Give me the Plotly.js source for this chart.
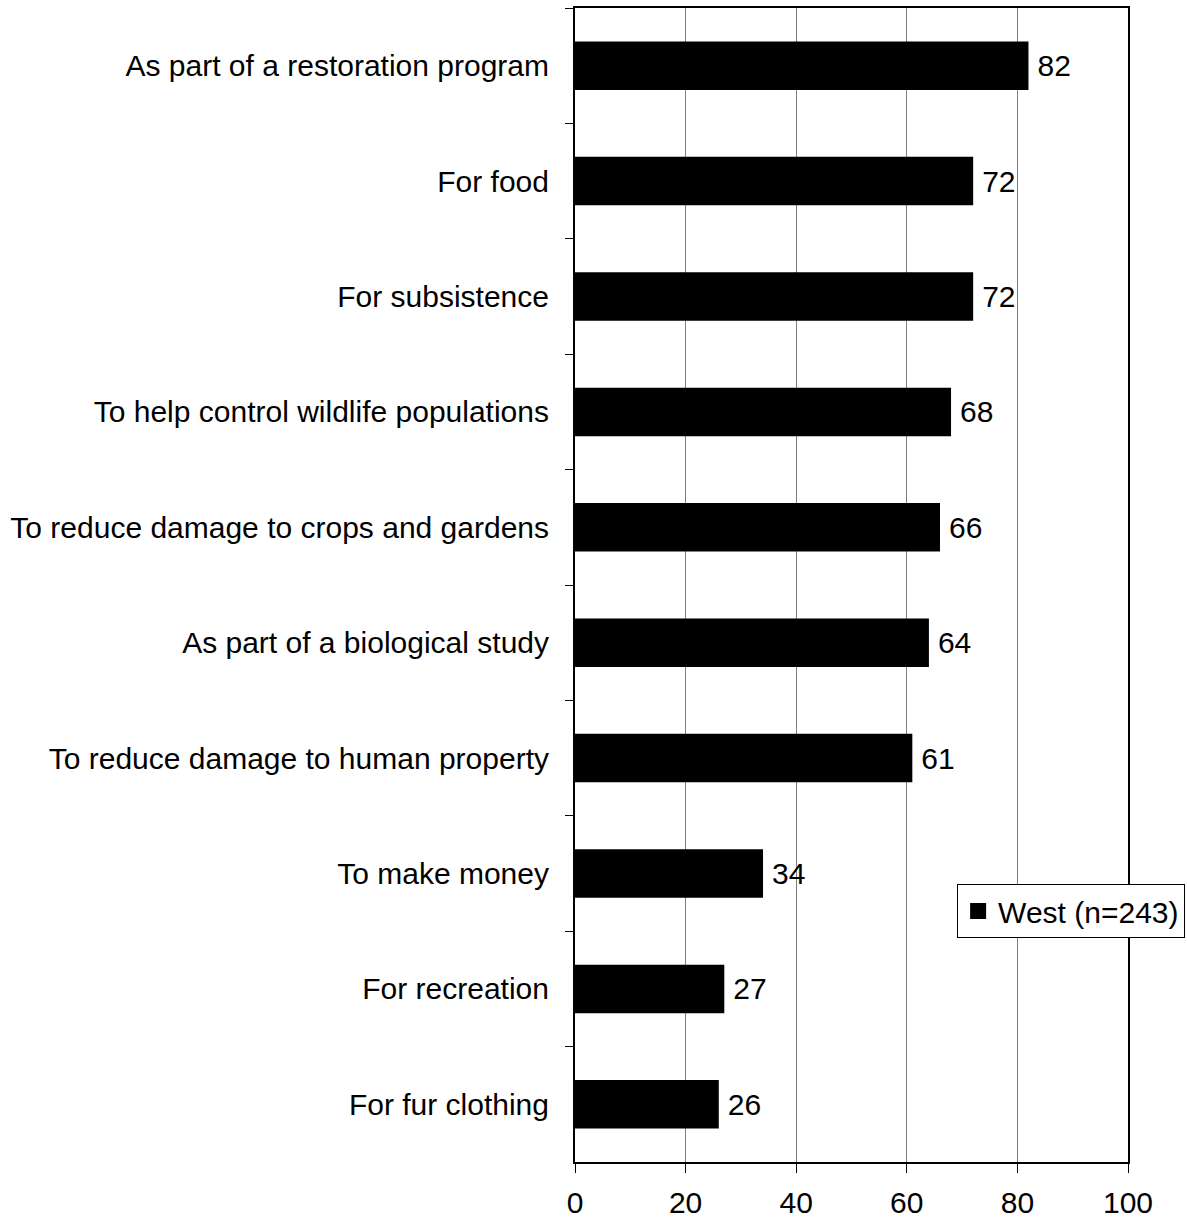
<!DOCTYPE html>
<html>
<head>
<meta charset="utf-8">
<script src="https://cdn.plot.ly/plotly-3.0.1.min.js"></script>
<style>html,body{margin:0;padding:0;background:#fff;}#chart{width:1187px;height:1219px;}</style>
</head>
<body>
<div id="chart"></div>
<script>
const categories = [
  "As part of a restoration program",
  "For food",
  "For subsistence",
  "To help control wildlife populations",
  "To reduce damage to crops and gardens",
  "As part of a biological study",
  "To reduce damage to human property",
  "To make money",
  "For recreation",
  "For fur clothing"
];
const westValues = [82, 72, 72, 68, 66, 64, 61, 34, 27, 26];
const seriesName = "West (n=243)";
const xTickValues = [0, 20, 40, 60, 80, 100];

const FONT = "Arial, 'Liberation Sans', sans-serif";

const barTrace = {
  type: "bar",
  orientation: "h",
  name: seriesName,
  y: categories,
  x: westValues,
  marker: {color: "#000000", line: {width: 0}},
  text: westValues.map(v => "\u2009" + v),
  textposition: "outside",
  cliponaxis: false,
  constraintext: "none",
  textfont: {family: FONT, size: 30, color: "#000"},
  hoverinfo: "skip",
  showlegend: false
};

// legend-only entry (larger square symbol like the reference)
const legendTrace = {
  type: "scatter",
  mode: "markers",
  name: seriesName,
  x: [null],
  y: [null],
  marker: {symbol: "square", size: 16, color: "#000"},
  showlegend: true,
  hoverinfo: "skip"
};

const layout = {
  width: 1187,
  height: 1219,
  margin: {l: 575, r: 59, t: 8, b: 57, pad: 0, autoexpand: false},
  paper_bgcolor: "#fff",
  plot_bgcolor: "#fff",
  font: {family: FONT, size: 30, color: "#000"},
  bargap: 0.58,
  showlegend: true,
  legend: {
    x: 0.691, y: 0.2175, xanchor: "left", yanchor: "middle",
    bgcolor: "#fff", bordercolor: "#000", borderwidth: 1,
    font: {family: FONT, size: 30, color: "#000"},
    itemwidth: 30,
    itemsizing: "trace"
  },
  xaxis: {
    range: [0, 100],
    tickvals: xTickValues,
    ticktext: xTickValues.map(String),
    ticks: "outside", ticklen: 9, tickcolor: "#000", tickwidth: 1,
    showline: true, linecolor: "#000", linewidth: 2, mirror: true,
    showgrid: true, gridcolor: "#808080", gridwidth: 1,
    zeroline: false,
    ticklabelstandoff: 4,
    tickfont: {family: FONT, size: 30, color: "#000"},
    fixedrange: true
  },
  yaxis: {
    type: "category",
    autorange: "reversed",
    ticks: "outside", ticklen: 8, tickcolor: "#000", tickwidth: 1,
    tickson: "boundaries",
    showline: true, linecolor: "#000", linewidth: 2, mirror: true,
    showgrid: false,
    zeroline: false,
    ticklabelstandoff: 18,
    tickfont: {family: FONT, size: 30, color: "#000"},
    fixedrange: true
  }
};

Plotly.newPlot("chart", [barTrace, legendTrace], layout, {displayModeBar: false, staticPlot: true});
</script>
</body>
</html>
